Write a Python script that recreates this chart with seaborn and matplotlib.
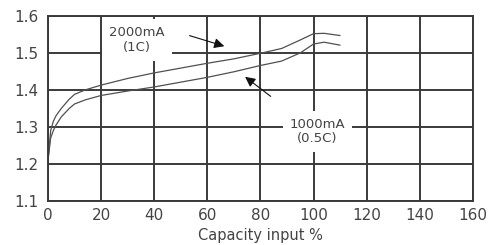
import numpy as np
import matplotlib
matplotlib.use("Agg")
import matplotlib.pyplot as plt
import seaborn as sns

# capacity input (%) and cell voltage (V)
cap = [0, 0.5, 1, 2, 3, 5, 8, 10, 14, 20, 30, 40, 50, 60, 70, 80, 88, 95, 100, 104, 110]
v_1c = [1.21, 1.25, 1.29, 1.315, 1.33, 1.35, 1.375, 1.388, 1.400, 1.413, 1.431, 1.446, 1.459, 1.472, 1.484, 1.499, 1.512, 1.535, 1.552, 1.553, 1.547]
v_05c = [1.21, 1.24, 1.27, 1.29, 1.305, 1.327, 1.350, 1.362, 1.373, 1.385, 1.397, 1.408, 1.421, 1.434, 1.449, 1.466, 1.478, 1.500, 1.524, 1.529, 1.521]

sns.set_theme(style="white")
plt.rcParams['font.family'] = ['DejaVu Sans']

fig = plt.figure(figsize=(4.92, 2.45), dpi=100)
ax = fig.add_axes([0.0976, 0.18, 0.8634, 0.755])

sns.lineplot(x=cap, y=v_1c, ax=ax, color="#505050", lw=0.9, zorder=3)
sns.lineplot(x=cap, y=v_05c, ax=ax, color="#505050", lw=0.9, zorder=3)

ax.set_xlim(0, 160)
ax.set_ylim(1.1, 1.6)
ax.set_xticks(range(0, 161, 20))
ax.set_yticks([1.1, 1.2, 1.3, 1.4, 1.5, 1.6])
ax.set_yticklabels(["1.1", "1.2", "1.3", "1.4", "1.5", "1.6"])
ax.grid(True, color="#3a3a3a", lw=1.4)
for s in ax.spines.values():
    s.set_color("#3a3a3a")
    s.set_linewidth(1.4)
    s.set_zorder(6)
ax.tick_params(axis="both", length=0, labelsize=11, labelcolor="#444444")
ax.tick_params(axis="y", pad=7)
ax.tick_params(axis="x", pad=5)
ax.set_xlabel("Capacity input %", fontsize=10.5, color="#444444", labelpad=4)

box = dict(facecolor="white", edgecolor="none", pad=5)
ax.text(33.5, 1.535, "2000mA\n(1C)", ha="center", va="center", fontsize=9.5,
        color="#444444", bbox=box, zorder=4, linespacing=1.15)
ax.text(101.5, 1.288, "1000mA\n(0.5C)", ha="center", va="center", fontsize=9.5,
        color="#444444", bbox=box, zorder=4, linespacing=1.15)

ax.annotate("", xy=(67.4, 1.516), xytext=(52.3, 1.549),
            arrowprops=dict(arrowstyle="-|>", color="#111111", lw=0.8,
                            mutation_scale=15), zorder=5)
ax.annotate("", xy=(73.4, 1.44), xytext=(84.7, 1.378),
            arrowprops=dict(arrowstyle="-|>", color="#111111", lw=0.8,
                            mutation_scale=15), zorder=5)

fig.savefig("out.png", dpi=100)
